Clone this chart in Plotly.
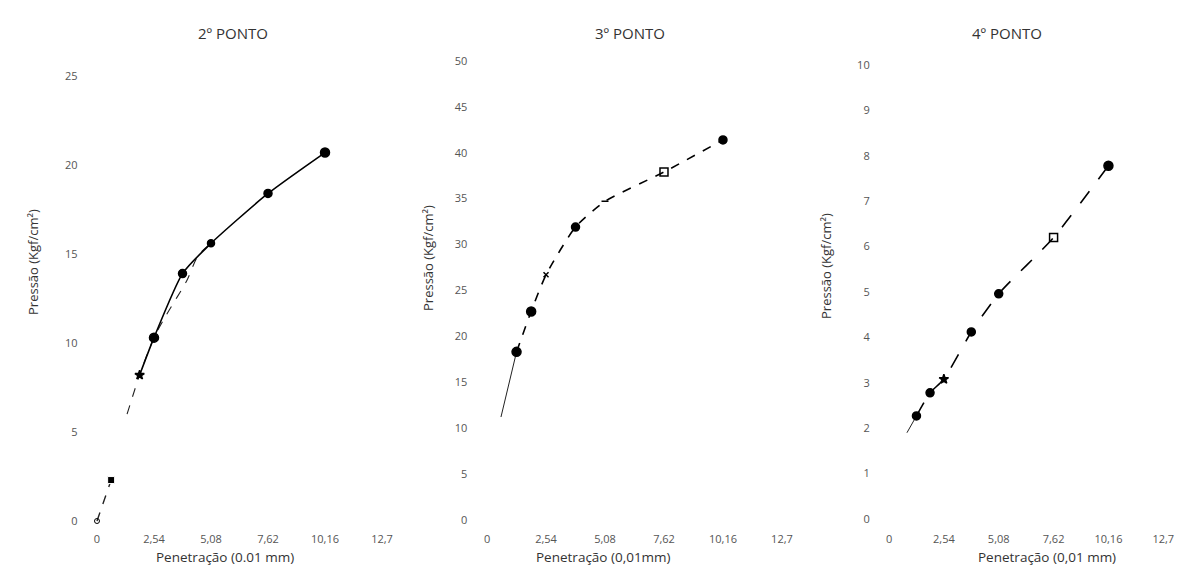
import plotly.graph_objects as go

W, H = 1183, 574

# ---------------- data ----------------
panel_titles = ["2º PONTO", "3º PONTO", "4º PONTO"]
x_titles = ["Penetração (0.01 mm)", "Penetração (0,01mm)", "Penetração (0,01 mm)"]
y_title = "Pressão (Kgf/cm²)"

x_tickvals = [0, 2.54, 5.08, 7.62, 10.16, 12.7]
x_ticktext = ["0", "2,54", "5,08", "7,62", "10,16", "12,7"]

# 2º ponto
p2_orig_x = [0.0, 0.63]
p2_orig_y = [0.0, 2.3]
p2_x = [1.90, 2.54, 3.81, 5.08, 7.62, 10.16]
p2_y = [8.2, 10.3, 13.9, 15.6, 18.4, 20.7]
p2_curve_x = [1.34, 1.90, 2.54, 3.1, 4.0, 4.5, 5.08]
p2_curve_y = [6.0, 8.2, 10.3, 11.6, 13.5, 14.9, 15.6]
p2_yticks = [0, 5, 10, 15, 20, 25]

# 3º ponto
p3_x = [1.27, 1.90, 2.54, 3.81, 5.08, 7.62, 10.16]
p3_y = [18.3, 22.7, 26.7, 31.9, 34.7, 37.9, 41.4]
p3_ext_x = [0.6, 1.27]
p3_ext_y = [11.2, 18.3]
p3_yticks = [0, 5, 10, 15, 20, 25, 30, 35, 40, 45, 50]

# 4º ponto
p4_x = [1.27, 1.90, 2.54, 3.81, 5.08, 7.62, 10.16]
p4_y = [2.27, 2.78, 3.08, 4.12, 4.96, 6.2, 7.78]
p4_ext_x = [0.83, 1.27]
p4_ext_y = [1.9, 2.27]
p4_yticks = [0, 1, 2, 3, 4, 5, 6, 7, 8, 9, 10]

# ---------------- layout geometry (pixels) ----------------
x_px = [(92.5, 386.5), (482.4, 786.6), (884.7, 1167.6)]
y_px = (58.2, 529.9)  # top, bottom
y_ranges = [[-0.5, 26.0], [-1.1, 50.3], [-0.24, 10.15]]
x_range = [-0.2, 12.9]

def xd(a, b):
    return [a / W, b / W]

yd = [(H - y_px[1]) / H, (H - y_px[0]) / H]

FONT = "Open Sans, Liberation Sans, Arial, sans-serif"
INK = "#000000"
TXT = "#333333"

fig = go.Figure()

def add_main(x, y, ax, dash, sizes, symbols):
    fig.add_trace(go.Scatter(
        x=x, y=y, mode="lines+markers", xaxis=ax[0], yaxis=ax[1],
        line=dict(color=INK, width=1.6, dash=dash, shape="spline", smoothing=0.6),
        marker=dict(color=INK, size=sizes, symbol=symbols, opacity=1,
                    line=dict(color=INK, width=1.5)),
        showlegend=False, hoverinfo="x+y"))

def add_line(x, y, ax, dash, width=1.1, shape="spline"):
    fig.add_trace(go.Scatter(
        x=x, y=y, mode="lines", xaxis=ax[0], yaxis=ax[1],
        line=dict(color="#222222", width=width, dash=dash, shape=shape, smoothing=0.8),
        showlegend=False, hoverinfo="skip"))

# panel 1
add_line(p2_orig_x, p2_orig_y, ("x", "y"), "dash", width=1.4, shape="linear")
fig.add_trace(go.Scatter(x=p2_orig_x, y=p2_orig_y, mode="markers", xaxis="x", yaxis="y",
                         marker=dict(color=INK, size=[5, 7], symbol=["circle-open", "square"], opacity=1),
                         showlegend=False))
add_line(p2_curve_x, p2_curve_y, ("x", "y"), "dash")
add_main(p2_x, p2_y, ("x", "y"), "solid", [7, 9, 8, 7, 8, 9],
         ["star", "circle", "circle", "circle", "circle", "circle"])

# panel 2
add_line(p3_ext_x, p3_ext_y, ("x2", "y2"), "solid", width=1.0)
add_main(p3_x, p3_y, ("x2", "y2"), "dash", [9, 9, 5, 8, 5, 8, 8],
         ["circle", "circle", "x-thin", "circle", "line-ew", "square-open", "circle"])

# panel 3
add_line(p4_ext_x, p4_ext_y, ("x3", "y3"), "solid", width=1.0)
add_main(p4_x, p4_y, ("x3", "y3"), "longdash", [8, 8, 7, 8, 8, 8, 9],
         ["circle", "circle", "star", "circle", "circle", "square-open", "circle"])

axis_common = dict(showgrid=False, zeroline=False, showline=False, ticks="", automargin=False,
                   tickfont=dict(family=FONT, size=11, color="#555555"))

yt = [p2_yticks, p3_yticks, p4_yticks]
for i in range(3):
    sfx = "" if i == 0 else str(i + 1)
    fig.layout["xaxis" + sfx] = dict(
        domain=xd(*x_px[i]), range=x_range, anchor="y" + sfx,
        tickvals=x_tickvals, ticktext=x_ticktext, ticklabelstandoff=1, **axis_common)
    fig.layout["yaxis" + sfx] = dict(
        domain=yd, range=y_ranges[i], anchor="x" + sfx,
        tickvals=yt[i], ticktext=[str(v) for v in yt[i]], ticklabelstandoff=14, **axis_common)

annotations = []
title_pos = [(233, 33), (630, 33), (1007, 33)]
xt_pos = [(225, 557), (603, 557), (1047, 557)]
yt_pos = [(33, 262), (428, 258), (826, 266)]
for i in range(3):
    annotations.append(dict(text=panel_titles[i], x=title_pos[i][0] / W, y=1 - title_pos[i][1] / H,
                            xref="paper", yref="paper", showarrow=False, xanchor="center", yanchor="middle",
                            font=dict(family=FONT, size=15, color=TXT)))
    annotations.append(dict(text=x_titles[i], x=xt_pos[i][0] / W, y=1 - xt_pos[i][1] / H,
                            xref="paper", yref="paper", showarrow=False, xanchor="center", yanchor="middle",
                            font=dict(family=FONT, size=13.5, color=TXT)))
    annotations.append(dict(text=y_title, x=yt_pos[i][0] / W, y=1 - yt_pos[i][1] / H,
                            xref="paper", yref="paper", showarrow=False, xanchor="center", yanchor="middle",
                            textangle=-90, font=dict(family=FONT, size=13, color=TXT)))

fig.update_layout(
    width=W, height=H, margin=dict(l=0, r=0, t=0, b=0, autoexpand=False),
    paper_bgcolor="white", plot_bgcolor="white",
    annotations=annotations, showlegend=False,
)

fig.write_html("out.html", config={"displayModeBar": False},
               post_script="document.body.style.margin='0';document.body.style.overflow='hidden';")
